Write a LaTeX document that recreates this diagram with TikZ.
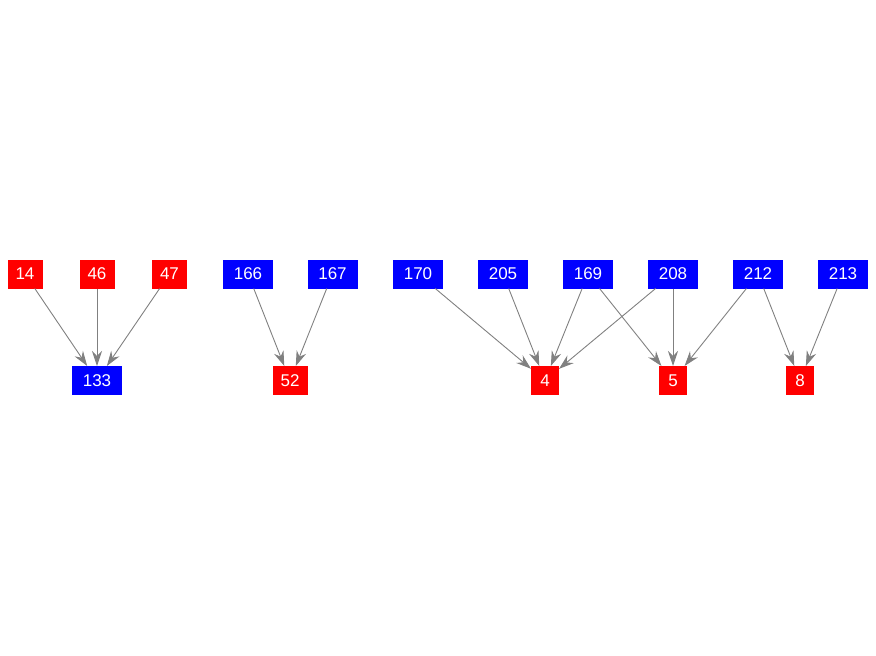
\documentclass[tikz,border=0pt]{standalone}
\usepackage{fontspec}
\setmainfont{Liberation Sans}
\usetikzlibrary{arrows.meta}
\begin{document}
\begin{tikzpicture}[x=1pt,y=-1pt,
  nbox/.style={draw=none,inner sep=0pt,outer sep=0pt,minimum height=29pt,text=white,font=\fontsize{17}{19}\selectfont},
  rb/.style={nbox,fill=red},
  bb/.style={nbox,fill=blue},
  wthree/.style={minimum width=50pt},
  wtwo/.style={minimum width=35pt},
  wone/.style={minimum width=28pt},
  edge/.style={draw={rgb,255:red,128;green,128;blue,128},line width=0.9pt,-{Stealth[length=15pt,width=10pt,inset=5pt]}}
]
\useasboundingbox (0,0) rectangle (876,656);
\node[rb,wtwo] (n14) at (25,274) {14};
\node[rb,wtwo] (n46) at (97,274) {46};
\node[rb,wtwo] (n47) at (169.5,274) {47};
\node[bb,wthree] (n133) at (97,380.5) {133};
\node[bb,wthree] (n166) at (248,274) {166};
\node[bb,wthree] (n167) at (332.5,274) {167};
\node[rb,wtwo] (n52) at (290,380.5) {52};
\node[bb,wthree] (n170) at (418,274) {170};
\node[bb,wthree] (n205) at (503,274) {205};
\node[bb,wthree] (n169) at (588,274) {169};
\node[bb,wthree] (n208) at (673,274) {208};
\node[bb,wthree] (n212) at (758,274) {212};
\node[bb,wthree] (n213) at (843,274) {213};
\node[rb,wone] (n4) at (545,380.5) {4};
\node[rb,wone] (n5) at (673,380.5) {5};
\node[rb,wone] (n8) at (800,380.5) {8};
\draw[edge] (n14) -- (n133);
\draw[edge] (n46) -- (n133);
\draw[edge] (n47) -- (n133);
\draw[edge] (n166) -- (n52);
\draw[edge] (n167) -- (n52);
\draw[edge] (n170) -- (n4);
\draw[edge] (n205) -- (n4);
\draw[edge] (n169) -- (n4);
\draw[edge] (n208) -- (n4);
\draw[edge] (n169) -- (n5);
\draw[edge] (n208) -- (n5);
\draw[edge] (n212) -- (n5);
\draw[edge] (n212) -- (n8);
\draw[edge] (n213) -- (n8);
\end{tikzpicture}
\end{document}
